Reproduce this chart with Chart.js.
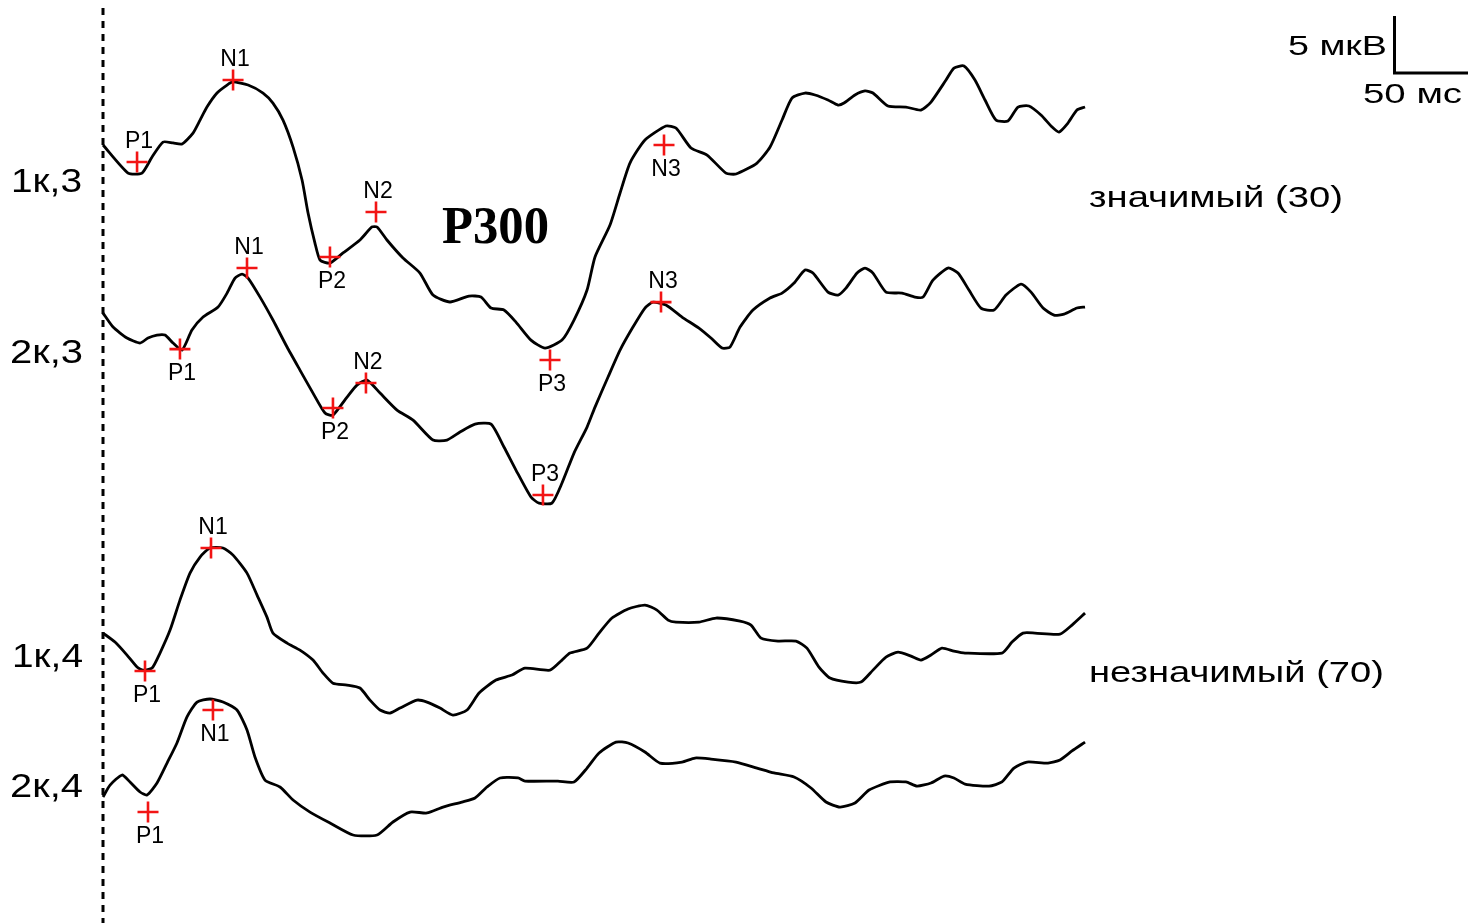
<!DOCTYPE html>
<html>
<head>
<meta charset="utf-8">
<script src="https://cdn.jsdelivr.net/npm/chart.js@4.4.1/dist/chart.umd.min.js"></script>
<style>
  html, body { margin: 0; padding: 0; background: #fff; }
  #wrap { position: relative; width: 1468px; height: 923px; }
</style>
</head>
<body>
<div id="wrap"><canvas id="erp"></canvas></div>
<script>
// ---- Averaged evoked potentials: latency (ms) and amplitude (µV, negative up) ----
const rowLabels = ['1к,3', '2к,3', '1к,4', '2к,4'];
const groupLabels = ['значимый (30)', 'незначимый (70)'];
const componentTitle = 'P300';
const scaleBarAmp = 5;    // µV
const scaleBarTime = 50;  // ms
const scaleBarLabels = ['5 мкВ', '50 мс'];

const time1 = [0, 16.7, 26, 32.7, 40, 46.7, 52.7, 60, 64.7, 69.3, 76, 82.7, 86.7, 96.7, 106.7, 113.3, 120, 126.7, 132.7, 136.7, 141.3, 144.7, 151.3, 160, 171.3, 179.3, 182.7, 189.3, 200, 211.3, 220, 231.3, 244, 252, 258.7, 267.3, 275.3, 285.3, 294.7, 306, 314, 322.7, 328, 338, 344.7, 351.3, 361.3, 375.3, 382, 392, 402.7, 415.3, 422, 436, 444.7, 452.7, 459.3, 468, 474.7, 483.3, 490, 494, 501.3, 508, 513.3, 523.3, 535.3, 545.3, 552, 562, 567.3, 574, 581.3, 588, 595.3, 603.3, 610, 617.3, 625.3, 632.7, 637.3, 643.3, 649.3, 654.7];
const amp1 = [0, 2.46, 2.46, 1.05, -0.26, -0.18, -0.09, -1.05, -2.19, -3.33, -4.56, -5.26, -5.53, -5.26, -4.56, -3.68, -2.19, 0.18, 3.07, 5.96, 8.60, 10.09, 10.35, 9.47, 8.33, 7.19, 7.19, 8.33, 9.91, 11.23, 13.16, 13.77, 13.25, 13.33, 14.30, 14.47, 15.53, 17.11, 17.81, 17.11, 15.35, 12.72, 9.82, 7.02, 4.21, 1.58, -0.44, -1.67, -1.49, 0.26, 0.88, 2.46, 2.54, 1.58, 0.18, -2.19, -4.12, -4.56, -4.39, -3.95, -3.51, -3.68, -4.39, -4.74, -4.56, -3.42, -3.33, -3.07, -3.77, -5.70, -6.75, -6.93, -5.70, -3.95, -2.19, -2.11, -3.33, -3.42, -2.63, -1.58, -1.14, -1.93, -3.07, -3.33];

const time2 = [0, 6.7, 16, 24.7, 30, 36, 41.3, 46.7, 52.7, 59.3, 66.7, 76.7, 82.7, 88, 92.7, 96.7, 104.7, 113.3, 122.7, 131.3, 140, 148, 153.3, 162.7, 169.3, 176, 184.7, 196, 206.7, 220, 229.3, 238, 248, 258.7, 267.3, 275.3, 285.3, 290.7, 299.3, 306, 314, 322.7, 328, 336.7, 344.7, 353.3, 361.3, 366.7, 375.3, 386, 397.3, 405.3, 412.7, 418, 424.7, 433.3, 444.7, 452.7, 460.7, 468, 473.3, 483.3, 490, 495.3, 502.7, 508, 513.3, 522, 532.7, 541.3, 546.7, 553.3, 563.3, 570, 577.3, 585.3, 594, 602, 612, 618.7, 626.7, 634, 640.7, 649.3, 654.7];
const amp2 = [0, 1.23, 2.19, 2.63, 2.19, 1.93, 1.93, 2.63, 3.25, 1.49, 0.35, -0.53, -1.75, -3.07, -3.42, -3.07, -1.40, 0.61, 2.98, 5.00, 7.02, 8.77, 8.95, 7.37, 6.32, 5.88, 7.02, 8.51, 9.39, 11.14, 11.14, 10.44, 9.74, 9.74, 11.75, 13.77, 16.14, 16.67, 16.67, 14.91, 12.28, 10.00, 8.25, 5.61, 3.25, 1.23, -0.44, -0.96, -0.70, 0.35, 1.32, 2.19, 3.07, 2.98, 1.23, -0.26, -1.32, -1.75, -2.63, -3.77, -3.51, -1.84, -1.58, -2.19, -3.51, -3.95, -3.51, -1.84, -1.75, -1.40, -1.40, -2.89, -3.95, -3.51, -2.02, -0.44, -0.26, -1.58, -2.54, -1.84, -0.44, 0.18, 0.09, -0.44, -0.53];

const time3 = [0, 8, 16, 22.7, 26.7, 32.7, 38, 44.7, 51.3, 58, 64.7, 71.3, 80, 86.7, 96, 102.7, 109.3, 113.3, 122.7, 131.3, 140, 146.7, 153.3, 162.7, 171.3, 178, 184.7, 191.3, 198, 209.3, 216, 224.7, 233.3, 242.7, 250.7, 262, 272.7, 281.3, 298, 306, 311.3, 322.7, 330.7, 339.3, 350, 361.3, 369.3, 376.7, 382, 397.3, 408.7, 424.7, 432, 438.7, 450, 462, 469.3, 477.3, 484.7, 496.7, 505.3, 513.3, 522, 530, 538.7, 545.3, 552, 559.3, 567.3, 574.7, 599.3, 606, 613.3, 621.3, 638, 646, 654.7];
const amp3 = [0, 0.79, 1.93, 2.98, 3.25, 3.07, 1.75, -0.26, -2.89, -5.26, -6.67, -7.46, -7.46, -6.84, -5.26, -3.33, -1.40, 0, 0.88, 1.49, 2.37, 3.51, 4.39, 4.56, 4.82, 5.88, 6.75, 7.02, 6.58, 5.88, 6.05, 6.58, 7.19, 6.75, 5.26, 4.12, 3.68, 3.07, 3.25, 2.37, 1.75, 1.32, 0, -1.32, -2.11, -2.46, -2.02, -1.14, -0.96, -0.96, -1.32, -1.05, -0.70, 0.44, 0.70, 0.70, 1.32, 2.98, 3.95, 4.30, 4.30, 3.25, 2.11, 1.67, 2.02, 2.37, 1.93, 1.32, 1.58, 1.75, 1.75, 0.79, 0, 0, 0.09, -0.70, -1.75];

const time4 = [0, 4.7, 12.7, 18, 24.7, 29.3, 36, 42.7, 49.3, 56, 62.7, 71.3, 80, 89.3, 96, 101.3, 108, 118, 126.7, 138, 151.3, 166.7, 182.7, 193.3, 204.7, 216, 226.7, 239.3, 248, 256, 264.7, 276.7, 281.3, 303.3, 314, 322.7, 330.7, 342, 350, 361.3, 371.3, 386, 394.7, 405.3, 422, 436, 447.3, 460.7, 472, 482, 491.3, 501.3, 510.7, 524.7, 535.3, 542.7, 552, 560.7, 567.3, 574.7, 590.7, 599.3, 607.3, 616, 630, 638, 646, 654.7];
const amp4 = [0, -1.05, -1.93, -1.32, -0.44, -0.18, -1.23, -2.98, -4.74, -7.02, -8.33, -8.60, -8.33, -7.63, -5.88, -3.51, -1.49, -0.88, 0.26, 1.32, 2.28, 3.33, 3.33, 2.19, 1.32, 1.40, 0.88, 0.44, 0.09, -0.88, -1.67, -1.67, -1.40, -1.40, -1.32, -2.54, -3.86, -4.82, -4.74, -3.95, -2.98, -3.07, -3.42, -3.33, -3.07, -2.54, -2.11, -1.75, -0.79, 0.44, 0.88, 0.53, -0.61, -1.32, -1.32, -0.96, -1.23, -1.84, -1.67, -1.14, -0.96, -1.32, -2.54, -3.07, -2.98, -3.25, -4.04, -4.82];

// Identified components: name, latency (ms), amplitude (µV)
const peakNames1 = ['P1', 'N1', 'P2', 'N2', 'P3', 'N3'];
const peakLat1 = [22.7, 86.7, 151.3, 182, 298, 374];
const peakAmp1 = [1.49, -5.70, 9.82, 5.88, 18.86, 0.0];

const peakNames2 = ['P1', 'N1', 'P2', 'N2', 'P3', 'N3'];
const peakLat2 = [51.3, 96, 153.3, 175.3, 293.3, 372];
const peakAmp2 = [3.16, -3.95, 8.33, 6.14, 15.96, -0.96];

const peakNames3 = ['P1', 'N1'];
const peakLat3 = [28, 72];
const peakAmp3 = [3.33, -7.46];

const peakNames4 = ['P1', 'N1'];
const peakLat4 = [30, 73.3];
const peakAmp4 = [1.32, -7.63];

// ---- Layout ----
const rowOffsets = [12.72, 27.46, 55.53, 69.91];     // vertical stacking of the traces (µV units)
const peakLabelSide = [[-1, -1, 1, -1, 1, 1], [1, -1, 1, -1, -1, -1], [1, -1], [1, 1]]; // -1 above, 1 below
const xRange = [-68.67, 910];
const yRange = [0, 80.96];
const scaleBarCorner = { x: 861, y: 6.4 };

const traces = [
  { t: time1, v: amp1 }, { t: time2, v: amp2 }, { t: time3, v: amp3 }, { t: time4, v: amp4 }
];
const peaks = [
  { n: peakNames1, t: peakLat1, v: peakAmp1 }, { n: peakNames2, t: peakLat2, v: peakAmp2 },
  { n: peakNames3, t: peakLat3, v: peakAmp3 }, { n: peakNames4, t: peakLat4, v: peakAmp4 }
];

const datasets = [];
traces.forEach((tr, r) => {
  datasets.push({
    label: rowLabels[r],
    data: tr.t.map((t, i) => ({ x: t, y: rowOffsets[r] + tr.v[i] })),
    showLine: true,
    borderColor: '#000',
    borderWidth: 2.8,
    pointRadius: 0,
    tension: 0.2,
    order: 2
  });
});
peaks.forEach((pk, r) => {
  datasets.push({
    label: rowLabels[r] + ' peaks',
    data: pk.t.map((t, i) => ({ x: t, y: rowOffsets[r] + pk.v[i] })),
    showLine: false,
    pointStyle: 'cross',
    pointRadius: 10.5,
    pointBorderColor: '#f21414',
    pointBorderWidth: 2.6,
    borderColor: '#f21414',
    order: 1,
    peakRow: r
  });
});

function fitText(ctx, text, x, baseline, width, font) {
  ctx.save();
  ctx.font = font;
  const w = ctx.measureText(text).width;
  ctx.translate(x, baseline);
  ctx.scale(width / w, 1);
  ctx.textAlign = 'left';
  ctx.textBaseline = 'alphabetic';
  ctx.fillText(text, 0, 0);
  ctx.restore();
}

const SANS = '"Liberation Sans", Arial, sans-serif';

const decorations = {
  id: 'erpDecorations',
  beforeDatasetsDraw(chart) {
    const { ctx, scales: { x } } = chart;
    // stimulus onset
    const x0 = x.getPixelForValue(0);
    ctx.save();
    ctx.strokeStyle = '#000';
    ctx.lineWidth = 3;
    ctx.setLineDash([7, 6]);
    ctx.beginPath();
    ctx.moveTo(x0, 8);
    ctx.lineTo(x0, chart.height);
    ctx.stroke();
    ctx.restore();
  },
  afterDatasetsDraw(chart) {
    const { ctx, scales: { x, y } } = chart;
    ctx.save();
    ctx.fillStyle = '#000';

    // component labels next to each cross
    chart.data.datasets.forEach((ds, di) => {
      if (ds.peakRow === undefined) return;
      const r = ds.peakRow;
      const meta = chart.getDatasetMeta(di);
      meta.data.forEach((el, i) => {
        const side = peakLabelSide[r][i];
        ctx.font = '23px ' + SANS;
        ctx.textAlign = 'center';
        ctx.textBaseline = 'alphabetic';
        ctx.fillText(peaks[r].n[i], el.x + 2, el.y + side * 22.5 + 8.5);
      });
    });

    // row labels
    const rowLabelPos = [[11, 192, 71], [10, 363, 73], [12, 667, 71], [10, 797, 73]];
    rowLabels.forEach((txt, r) => {
      const [lx, lb, lw] = rowLabelPos[r];
      fitText(ctx, txt, lx, lb, lw, '33px ' + SANS);
    });

    // group labels
    fitText(ctx, groupLabels[0], 1089, 207, 254, '30px ' + SANS);
    fitText(ctx, groupLabels[1], 1089, 682, 295, '30px ' + SANS);

    // component title
    fitText(ctx, componentTitle, 442, 243, 107, 'bold 53px "Liberation Serif", "Times New Roman", serif');

    // calibration bar
    const cx = x.getPixelForValue(scaleBarCorner.x);
    const cy = y.getPixelForValue(scaleBarCorner.y);
    const topY = y.getPixelForValue(scaleBarCorner.y - scaleBarAmp);
    const rightX = x.getPixelForValue(scaleBarCorner.x + scaleBarTime);
    ctx.strokeStyle = '#000';
    ctx.lineWidth = 3;
    ctx.beginPath();
    ctx.moveTo(cx, topY);
    ctx.lineTo(cx, cy);
    ctx.lineTo(rightX, cy);
    ctx.stroke();
    fitText(ctx, scaleBarLabels[0], 1288, 55, 99, '28px ' + SANS);
    fitText(ctx, scaleBarLabels[1], 1363, 103, 99, '28px ' + SANS);

    ctx.restore();
  }
};

new Chart(document.getElementById('erp'), {
  type: 'scatter',
  data: { datasets },
  options: {
    responsive: true,
    maintainAspectRatio: false,
    devicePixelRatio: 1,
    animation: false,
    events: [],
    layout: { padding: 0, autoPadding: false },
    plugins: { legend: { display: false }, tooltip: { enabled: false } },
    scales: {
      x: { type: 'linear', min: xRange[0], max: xRange[1], display: false },
      y: { type: 'linear', min: yRange[0], max: yRange[1], reverse: true, display: false }
    }
  },
  plugins: [decorations]
});
</script>
</body>
</html>
